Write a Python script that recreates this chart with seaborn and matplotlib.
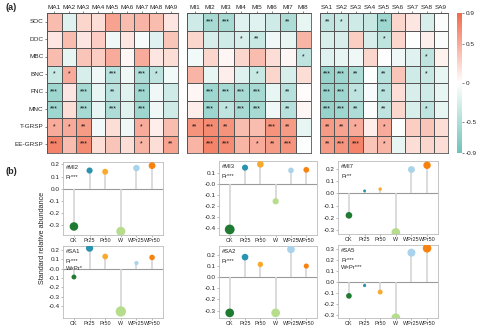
import numpy as np
import pandas as pd
import matplotlib
matplotlib.use("Agg")
import matplotlib.pyplot as plt
import seaborn as sns
from matplotlib.colors import LinearSegmentedColormap
from matplotlib.ticker import FormatStrFormatter

sns.set_style("white")
plt.rcParams['font.family'] = ['Liberation Sans', 'DejaVu Sans']
plt.rcParams['axes.unicode_minus'] = False

# ---------------- data: heatmap ----------------
rows = ["SOC", "DOC", "MBC", "BNC", "FNC", "MNC", "T-GRSP", "EE-GRSP"]
ma_cols = ["MA1", "MA2", "MA3", "MA4", "MA5", "MA6", "MA7", "MA8", "MA9"]
mi_cols = ["MI1", "MI2", "MI3", "MI4", "MI5", "MI6", "MI7", "MI8"]
sa_cols = ["SA1", "SA2", "SA3", "SA4", "SA5", "SA6", "SA7", "SA8", "SA9"]

ma_r = [
    [0.40, -0.20, 0.25, 0.20, 0.55, 0.40, 0.45, 0.40, 0.15],
    [0.15, 0.40, 0.15, 0.30, -0.10, 0.15, -0.05, -0.20, 0.35],
    [0.40, -0.15, 0.35, 0.30, 0.50, 0.05, 0.50, 0.15, 0.20],
    [-0.35, 0.50, -0.25, -0.10, -0.45, -0.10, -0.50, -0.40, -0.08],
    [-0.60, 0.15, -0.55, -0.15, -0.45, -0.20, -0.60, -0.10, -0.30],
    [-0.60, 0.20, -0.55, -0.15, -0.50, -0.20, -0.60, -0.10, -0.30],
    [0.50, 0.50, 0.60, -0.08, 0.20, -0.10, 0.50, 0.10, 0.40],
    [0.75, 0.40, 0.70, 0.20, 0.35, 0.20, 0.45, 0.20, 0.55],
]
ma_sig = [
    ["", "", "", "", "", "", "", "", ""],
    ["", "", "", "", "", "", "", "", ""],
    ["", "", "", "", "", "", "", "", ""],
    ["*", "*", "", "", "***", "", "***", "*", ""],
    ["***", "", "***", "", "**", "", "***", "", ""],
    ["***", "", "***", "", "***", "", "***", "", ""],
    ["*", "*", "**", "", "", "", "*", "", ""],
    ["***", "", "***", "", "", "", "*", "", "**"],
]
mi_r = [
    [-0.30, -0.55, -0.55, -0.20, -0.20, -0.30, -0.50, -0.15],
    [0.25, -0.25, -0.30, -0.25, -0.35, -0.10, -0.15, 0.45],
    [-0.08, 0.25, 0.05, 0.25, 0.40, 0.20, 0.05, -0.40],
    [0.45, -0.15, 0.10, -0.20, -0.35, 0.25, -0.25, 0.20],
    [0.05, -0.60, -0.55, -0.55, -0.55, -0.15, -0.45, 0.02],
    [0.10, -0.60, -0.40, -0.55, -0.55, -0.10, -0.45, 0.05],
    [0.65, 0.70, 0.65, 0.40, 0.40, 0.65, 0.60, -0.15],
    [0.45, 0.75, 0.70, 0.45, 0.50, 0.60, 0.65, -0.02],
]
mi_sig = [
    ["", "***", "***", "", "", "", "**", ""],
    ["", "", "", "*", "**", "", "", ""],
    ["", "", "", "", "", "", "", "*"],
    ["", "", "", "", "*", "", "", ""],
    ["", "***", "***", "***", "***", "", "**", ""],
    ["", "***", "*", "***", "***", "", "**", ""],
    ["**", "***", "**", "", "", "***", "**", ""],
    ["", "***", "***", "", "*", "**", "***", ""],
]
sa_r = [
    [-0.40, -0.35, -0.30, -0.35, -0.60, 0.25, 0.15, -0.25, -0.03],
    [-0.25, -0.25, 0.30, -0.25, -0.40, 0.25, 0.00, 0.10, -0.03],
    [-0.20, -0.15, -0.10, 0.25, 0.00, -0.10, -0.20, -0.40, 0.08],
    [-0.65, -0.60, -0.50, -0.02, -0.45, 0.35, -0.30, -0.35, -0.15],
    [-0.65, -0.60, -0.40, -0.05, -0.45, 0.20, -0.25, -0.30, -0.15],
    [-0.65, -0.60, -0.50, -0.03, -0.40, 0.25, -0.25, -0.40, -0.15],
    [0.60, 0.55, 0.50, 0.10, 0.50, -0.02, 0.30, 0.35, 0.20],
    [0.60, 0.65, 0.75, 0.35, 0.45, -0.15, 0.20, 0.25, 0.20],
]
sa_sig = [
    ["**", "*", "", "", "***", "", "", "", ""],
    ["", "", "", "", "*", "", "", "", ""],
    ["", "", "", "", "", "", "", "*", ""],
    ["***", "***", "**", "", "**", "", "", "*", ""],
    ["***", "***", "*", "", "**", "", "", "", ""],
    ["***", "***", "**", "", "**", "", "", "*", ""],
    ["**", "**", "*", "", "*", "", "", "", ""],
    ["**", "***", "***", "", "*", "", "", "", ""],
]
cbar_ticks = [0.9, 0.5, 0, -0.5, -0.9]
cbar_labels = ["0.9", "0.5", "0", "-0.5", "-0.9"]

# ---------------- data: lollipops ----------------
groups = ["CK", "Pr25", "Pr50", "W", "WPr25", "WPr50"]
mi2_vals = [-0.31, 0.15, 0.14, -0.35, 0.17, 0.19]
mi3_vals = [-0.41, 0.15, 0.18, -0.155, 0.125, 0.13]
mi7_vals = [-0.18, 0.02, 0.035, -0.32, 0.195, 0.23]
sa1_vals = [-0.09, 0.22, 0.13, -0.46, 0.06, 0.12]
sa2_vals = [-0.32, 0.18, 0.115, -0.32, 0.25, 0.10]
sa5_vals = [-0.125, -0.03, -0.09, -0.325, 0.27, 0.31]
panel_titles = ["#MI2", "#MI3", "#MI7", "#SA1", "#SA2", "#SA5"]
panel_stats = [["Pr***"], ["Pr***"], ["Pr**"],
               ["Pr***", "W\u00d7Pr*"], ["Pr***"], ["Pr***", "W\u00d7Pr***"]]

palette = {"CK": "#1f7a32", "Pr25": "#2a93b0", "Pr50": "#f9aa2d",
           "W": "#b5dd8c", "WPr25": "#a9d3ea", "WPr50": "#f8820f"}

# ---------------- figure ----------------
W, H = 483, 331
fig = plt.figure(figsize=(W / 100, H / 100), dpi=100)


def px(x0, y0, x1, y1):
    return [x0 / W, 1 - y1 / H, (x1 - x0) / W, (y1 - y0) / H]


cmap = LinearSegmentedColormap.from_list("tc", ["#6fc3b8", "#ffffff", "#f26a4b"])
fs = 4.6

blocks = [(ma_cols, ma_r, ma_sig, (47, 178)),
          (mi_cols, mi_r, mi_sig, (187, 311)),
          (sa_cols, sa_r, sa_sig, (320, 448))]
cax = fig.add_axes(px(457, 13, 462, 153))
for i, (cols, vals, sig, (x0, x1)) in enumerate(blocks):
    ax = fig.add_axes(px(x0, 13, x1, 153))
    df = pd.DataFrame(vals, index=rows, columns=cols)
    last = i == len(blocks) - 1
    sns.heatmap(df, ax=ax, cmap=cmap, vmin=-0.9, vmax=0.9,
                annot=np.array(sig), fmt="", annot_kws={"fontsize": 5, "color": "#111111"},
                linewidths=0.6, linecolor="#555555",
                xticklabels=True, yticklabels=True,
                cbar=last, cbar_ax=cax if last else None)
    ax.xaxis.tick_top()
    ax.set_xticklabels(cols, rotation=0, fontsize=fs)
    ax.tick_params(axis="x", length=1.5, width=0.4, pad=1, top=True, bottom=False)
    if i == 0:
        ax.set_yticklabels(rows, rotation=0, fontsize=fs)
        ax.tick_params(axis="y", length=1.5, width=0.4, pad=1, left=True)
    else:
        ax.set_yticks([])
    ax.set_xlabel("")
    ax.set_ylabel("")
    for s in ax.spines.values():
        s.set_visible(True)
        s.set_color("#555555")
        s.set_linewidth(0.6)

cax.set_yticks(cbar_ticks)
cax.set_yticklabels(cbar_labels, fontsize=fs)
cax.tick_params(length=1.5, width=0.4, pad=1, right=True)
for s in cax.spines.values():
    s.set_visible(False)

fig.text(5 / W, 1 - 8 / H, "(a)", fontsize=6.5, fontweight="bold", va="center")
fig.text(5 / W, 1 - 172 / H, "(b)", fontsize=6.5, fontweight="bold", va="center")

# lollipop panels
all_vals = [mi2_vals, mi3_vals, mi7_vals, sa1_vals, sa2_vals, sa5_vals]
boxes = [(63, 162, 163, 235), (219, 161, 317, 235), (338, 161, 438, 234),
         (63, 246, 163, 318), (219, 246, 317, 318), (338, 245, 438, 318)]
ylims = [(-0.38, 0.22), (-0.46, 0.21), (-0.333, 0.265),
         (-0.53, 0.243), (-0.366, 0.28), (-0.327, 0.34)]
yticks = [np.arange(-0.3, 0.21, 0.1), np.arange(-0.4, 0.11, 0.1), np.arange(-0.3, 0.21, 0.1),
          np.arange(-0.4, 0.21, 0.1), np.arange(-0.3, 0.21, 0.1), np.arange(-0.3, 0.31, 0.1)]

for vals, title, stats, box, yl, yt in zip(all_vals, panel_titles, panel_stats, boxes, ylims, yticks):
    ax = fig.add_axes(px(*box))
    d = pd.DataFrame({"g": groups, "v": vals, "a": np.abs(vals)})
    xpos = np.arange(len(groups))
    ax.axhline(0, color="#9a9a9a", lw=0.8, zorder=1)
    ax.vlines(xpos, 0, d["v"], color="#d6d6d6", lw=1.2, zorder=1)
    sns.scatterplot(data=d, x="g", y="v", hue="g", palette=palette, size="a",
                    size_norm=(0, 0.5), sizes=(2, 60), legend=False, ax=ax,
                    linewidth=0, zorder=3)
    ax.set_xlim(-0.7, 5.7)
    ax.set_ylim(*yl)
    ax.set_yticks(yt)
    ax.yaxis.set_major_formatter(FormatStrFormatter("%.1f"))
    ax.set_xticks(xpos)
    ax.set_xticklabels(groups, fontsize=3.9)
    ax.tick_params(axis="y", labelsize=fs)
    ax.tick_params(length=1.5, width=0.4, pad=1, left=True, bottom=True,
                   color="#888888")
    ax.set_xlabel("")
    ax.set_ylabel("")
    for s in ax.spines.values():
        s.set_color("#bbbbbb")
        s.set_linewidth(0.6)
    ax.text(0.03, 0.93, title, transform=ax.transAxes, fontsize=fs - 0.4, va="center")
    for k, st in enumerate(stats):
        ax.text(0.03, 0.79 - 0.1 * k, st, transform=ax.transAxes, fontsize=fs - 0.4, va="center")

fig.text(42 / W, 1 - 238 / H, "Standard relative abundance", rotation=90,
         fontsize=5.2, ha="center", va="center")

fig.savefig("out.png", dpi=100)
